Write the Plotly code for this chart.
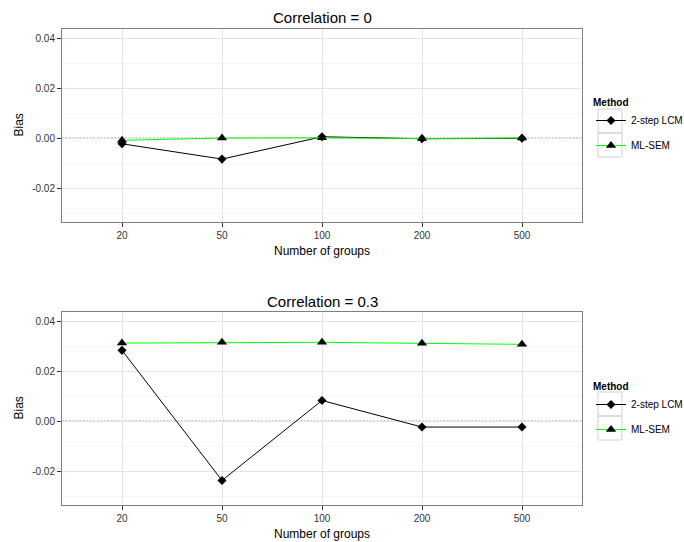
import plotly.graph_objects as go

groups = ["20", "50", "100", "200", "500"]
methods = ["2-step LCM", "ML-SEM"]
panel_titles = ["Correlation = 0", "Correlation = 0.3"]

# Correlation = 0
lcm_r0 = [-0.0022, -0.0083, 0.0006, -0.0002, 0.0000]
sem_r0 = [-0.0008, 0.0001, 0.0002, -0.0001, 0.0001]
# Correlation = 0.3
lcm_r3 = [0.0283, -0.0236, 0.0083, -0.0023, -0.0023]
sem_r3 = [0.0312, 0.0315, 0.0315, 0.0311, 0.0307]

ytickvals = [-0.02, 0.0, 0.02, 0.04]
yticktext = ["-0.02", "0.00", "0.02", "0.04"]

W, H = 684, 542
FONT = "Arial, Liberation Sans, sans-serif"

# pixel geometry of plot panels
x0, x1 = 62, 582
panels = [(29, 222), (312, 505)]

fig = go.Figure()

data = [(lcm_r0, sem_r0), (lcm_r3, sem_r3)]
for i, ((lcm, sem), (top, bot)) in enumerate(zip(data, panels)):
    xa = "x" if i == 0 else "x2"
    ya = "y" if i == 0 else "y2"
    leg = "legend" if i == 0 else "legend2"
    fig.add_trace(go.Scatter(
        x=groups, y=lcm, mode="lines+markers", name=methods[0],
        line=dict(color="black", width=1),
        marker=dict(symbol="diamond", size=7, color="black"),
        legendgroup=f"a{i}",
        xaxis=xa, yaxis=ya, legend=leg))
    fig.add_trace(go.Scatter(
        x=groups, y=sem, mode="lines+markers", name=methods[1],
        line=dict(color="#00ff00", width=1),
        marker=dict(symbol="triangle-up", size=9, color="black"),
        legendgroup=f"b{i}",
        xaxis=xa, yaxis=ya, legend=leg))

    ydom = [1 - bot / H, 1 - top / H]
    axx = dict(
        domain=[x0 / W, x1 / W], type="category", range=[-0.6, 4.6],
        anchor=ya, showline=True, mirror=True, linecolor="#7f7f7f", linewidth=1,
        showgrid=True, gridcolor="#e5e5e5", gridwidth=1,
        ticks="outside", ticklen=4, tickcolor="#333333",
        tickfont=dict(family=FONT, size=10, color="#333333"),
        zeroline=False, fixedrange=True)
    axy = dict(
        domain=ydom, range=[-0.0334, 0.0436], anchor=xa,
        tickvals=ytickvals, ticktext=yticktext,
        showline=True, mirror=True, linecolor="#7f7f7f", linewidth=1,
        showgrid=True, gridcolor="#e5e5e5", gridwidth=1,
        minor=dict(tickvals=[-0.03, -0.01, 0.01, 0.03], showgrid=True,
                   gridcolor="#f5f5f5", gridwidth=1, ticks=""),
        ticks="outside", ticklen=4, tickcolor="#333333",
        tickfont=dict(family=FONT, size=10, color="#333333"),
        zeroline=False, fixedrange=True)
    if i == 0:
        fig.update_layout(xaxis=axx, yaxis=axy)
    else:
        fig.update_layout(xaxis2=axx, yaxis2=axy)

    # dotted zero line
    fig.add_shape(type="line", xref=f"{xa} domain", yref=ya, x0=0, x1=1, y0=0, y1=0,
                  line=dict(color="black", width=1.2, dash="1.5px,2px"), layer="below")

    cx = (x0 + x1) / 2 / W
    # title
    fig.add_annotation(text=panel_titles[i], xref="paper", yref="paper",
                       x=cx, y=1 - (top - 11) / H, showarrow=False,
                       font=dict(family=FONT, size=15, color="black"),
                       xanchor="center", yanchor="middle")
    # x title
    fig.add_annotation(text="Number of groups", xref="paper", yref="paper",
                       x=cx, y=1 - (bot + 29) / H, showarrow=False,
                       font=dict(family=FONT, size=12, color="black"),
                       xanchor="center", yanchor="middle")
    # y title
    fig.add_annotation(text="Bias", xref="paper", yref="paper",
                       x=18 / W, y=1 - ((top + bot) / 2) / H, showarrow=False,
                       textangle=-90,
                       font=dict(family=FONT, size=12, color="black"),
                       xanchor="center", yanchor="middle")

    # legend key boxes
    ly = top + 80
    for k in range(2):
        fig.add_shape(type="rect", xref="paper", yref="paper",
                      x0=598 / W, x1=622 / W,
                      y0=1 - (ly + 24 * (k + 1)) / H, y1=1 - (ly + 24 * k) / H,
                      line=dict(color="#d0d0d0", width=1), fillcolor="rgba(0,0,0,0)")

legend_common = dict(
    xanchor="left", yanchor="top", bgcolor="rgba(0,0,0,0)",
    font=dict(family=FONT, size=10, color="black"),
    title=dict(text="<b>Method</b>", font=dict(family=FONT, size=10, color="black")),
    itemwidth=30, tracegroupgap=6)

fig.update_layout(
    width=W, height=H,
    margin=dict(l=0, r=0, t=0, b=0, autoexpand=False),
    paper_bgcolor="white", plot_bgcolor="white",
    showlegend=True,
    legend=dict(x=591 / W, y=1 - 93 / H, **legend_common),
    legend2=dict(x=591 / W, y=1 - 377 / H, **legend_common),
)

fig.write_html("out.html", config={"displayModeBar": False},
               post_script="document.body.style.margin='0px';")
